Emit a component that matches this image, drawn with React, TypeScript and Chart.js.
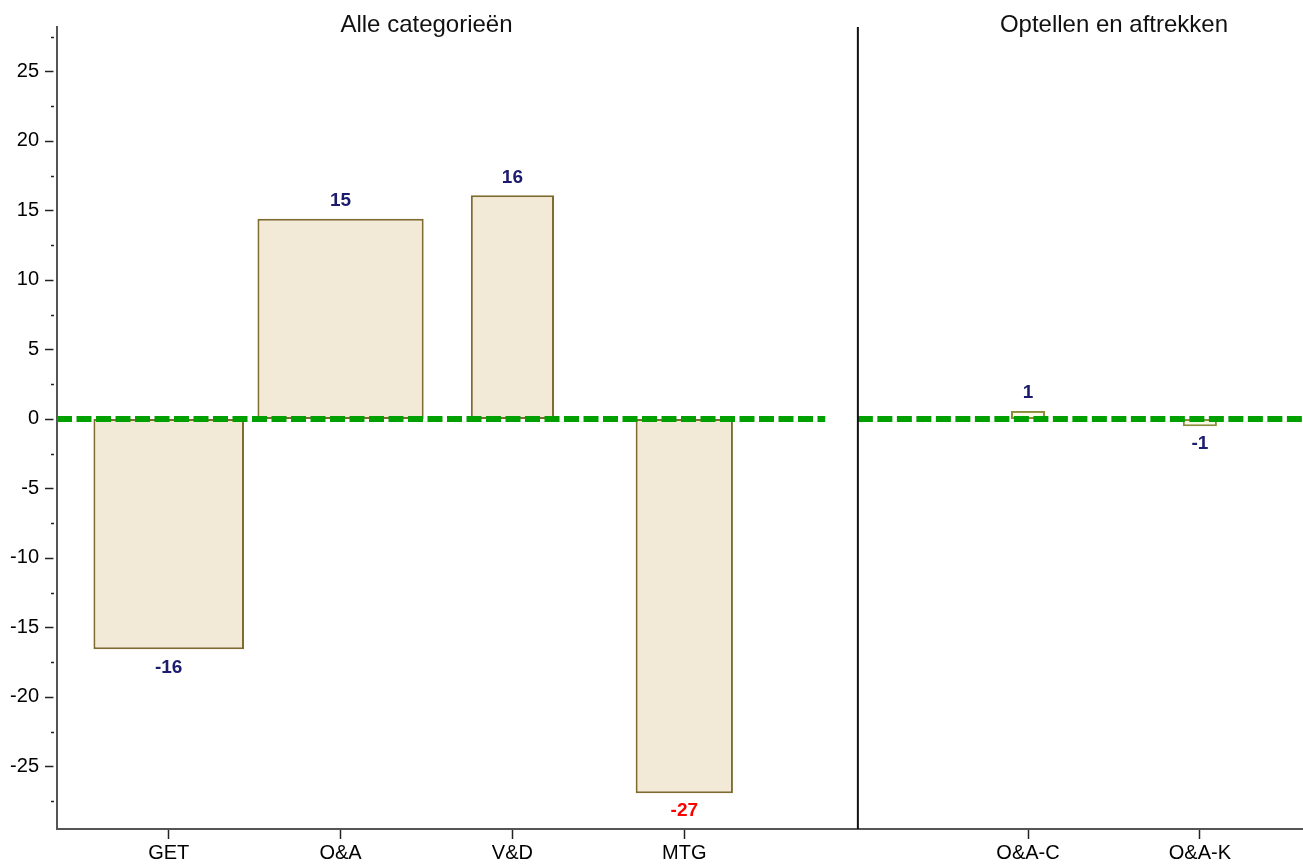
import React, { useEffect, useRef } from 'react';
import { Chart, registerables } from 'chart.js';

Chart.register(...registerables);

const FONT = "Arial, 'Liberation Sans', Helvetica, sans-serif";

// ---- data ----
const categories = ['GET', 'O&A', 'V&D', 'MTG', 'O&A-C', 'O&A-K'];
const positions = [1, 2, 3, 4, 6, 7];
const values = [-16.57, 14.41, 16.09, -26.92, 0.58, -0.52];
const barWidths = [0.876, 0.967, 0.484, 0.566, 0.198, 0.198];
const valueLabels = ['-16', '15', '16', '-27', '1', '-1'];
const valueLabelColors = ['#1c1c6e', '#1c1c6e', '#1c1c6e', '#ff0000', '#1c1c6e', '#1c1c6e'];
const barFills = ['#f2ead6', '#f2ead6', '#f2ead6', '#f2ead6', '#fbfbe8', '#fbfbe8'];
const barBorders = ['#7f6a2f', '#7f6a2f', '#7f6a2f', '#7f6a2f', '#8c8c3a', '#8c8c3a'];

const panelTitles = ['Alle categorieën', 'Optellen en aftrekken'];
const panelTitleCenters = [2.5, 6.5];
const panelDivider = 5.01;
const zeroLineSegments = [
  [0.35, 4.82],
  [5.01, 7.6],
];

const xRange = [0.35, 7.6];
const yRange = [-29.5, 28.2];
const yMajorTicks = [-25, -20, -15, -10, -5, 0, 5, 10, 15, 20, 25];
const yMinorTicks = [-27.5, -22.5, -17.5, -12.5, -7.5, -2.5, 2.5, 7.5, 12.5, 17.5, 22.5, 27.5];

const decorPlugin = {
  id: 'decor',
  afterDatasetsDraw(chart: any) {
    const { ctx, chartArea, scales } = chart;
    const x = scales.x;
    const y = scales.y;
    ctx.save();

    // panel divider
    const sx = x.getPixelForValue(panelDivider);
    ctx.strokeStyle = '#111';
    ctx.lineWidth = 2;
    ctx.beginPath();
    ctx.moveTo(sx, chartArea.top);
    ctx.lineTo(sx, chartArea.bottom);
    ctx.stroke();

    // y axis tick marks
    ctx.strokeStyle = '#222';
    ctx.lineWidth = 1.5;
    const ax = chartArea.left;
    yMajorTicks.forEach((v) => {
      const py = Math.round(y.getPixelForValue(v)) + 0.5;
      ctx.beginPath();
      ctx.moveTo(ax - 12, py);
      ctx.lineTo(ax - 3.5, py);
      ctx.stroke();
    });
    yMinorTicks.forEach((v) => {
      const py = Math.round(y.getPixelForValue(v)) + 0.5;
      ctx.beginPath();
      ctx.moveTo(ax - 6, py);
      ctx.lineTo(ax - 3, py);
      ctx.stroke();
    });

    // value labels
    ctx.font = `bold 19px ${FONT}`;
    ctx.textAlign = 'center';
    ctx.textBaseline = 'middle';
    chart.data.datasets.forEach((ds: any, i: number) => {
      if (ds.type !== 'bar') return;
      const meta = chart.getDatasetMeta(i);
      const el: any = meta.data[0];
      if (!el) return;
      const idx = ds.catIndex;
      const v = values[idx];
      ctx.fillStyle = valueLabelColors[idx];
      const ly = v >= 0 ? el.y - 18 : el.y + 18;
      ctx.fillText(valueLabels[idx], el.x, ly);
    });

    // panel titles
    ctx.font = `24px ${FONT}`;
    ctx.fillStyle = '#111';
    ctx.textBaseline = 'alphabetic';
    panelTitles.forEach((t, i) => {
      ctx.fillText(t, x.getPixelForValue(panelTitleCenters[i]), 31.5);
    });

    ctx.restore();
  },
};

export default function App() {
  const canvasRef = useRef<HTMLCanvasElement | null>(null);

  useEffect(() => {
    if (!canvasRef.current) return;
    const barDatasets = categories.map((c, i) => ({
      type: 'bar' as const,
      label: c,
      catIndex: i,
      data: [{ x: positions[i], y: values[i] }],
      backgroundColor: barFills[i],
      borderColor: barBorders[i],
      borderWidth: 2,
      borderSkipped: false,
      grouped: false,
      barPercentage: barWidths[i],
      categoryPercentage: 1,
      order: 2,
    }));
    const lineDatasets = zeroLineSegments.map((s, i) => ({
      type: 'line' as const,
      label: 'nul' + i,
      data: [
        { x: s[0], y: 0 },
        { x: s[1], y: 0 },
      ],
      borderColor: '#00a000',
      borderWidth: 6,
      borderDash: [15, 4.5],
      borderCapStyle: 'butt',
      pointRadius: 0,
      fill: false,
      order: 0,
    }));

    const chart = new Chart(canvasRef.current, {
      type: 'bar',
      data: { datasets: [...barDatasets, ...lineDatasets] as any },
      options: {
        animation: false,
        responsive: false,
        maintainAspectRatio: false,
        layout: { padding: { top: 27, left: 0, right: 0, bottom: 0 } },
        plugins: {
          legend: { display: false },
          tooltip: { enabled: false },
          title: { display: false },
        },
        scales: {
          x: {
            type: 'linear',
            min: xRange[0],
            max: xRange[1],
            offset: false,
            afterBuildTicks: (s: any) => {
              s.ticks = positions.map((v) => ({ value: v }));
            },
            afterFit: (s: any) => {
              s.height = 35;
            },
            ticks: {
              autoSkip: false,
              maxRotation: 0,
              padding: 2,
              color: '#000',
              font: { size: 20, family: FONT },
              callback: (v: any) => {
                const k = positions.indexOf(Number(v));
                return k >= 0 ? categories[k] : '';
              },
            },
            grid: {
              display: true,
              drawOnChartArea: false,
              offset: false,
              tickLength: 10,
              tickWidth: 1.5,
              tickColor: '#222',
            },
            border: { display: true, color: '#555', width: 2 },
          },
          y: {
            type: 'linear',
            min: yRange[0],
            max: yRange[1],
            afterBuildTicks: (s: any) => {
              s.ticks = yMajorTicks.map((v) => ({ value: v }));
            },
            afterFit: (s: any) => {
              s.width = 57;
            },
            ticks: {
              padding: 10,
              color: '#000',
              font: { size: 20, family: FONT },
              callback: (v: any) => String(v),
            },
            grid: { display: false },
            border: { display: true, color: '#555', width: 2 },
          },
        },
      } as any,
      plugins: [decorPlugin],
    });
    return () => chart.destroy();
  }, []);

  return (
    <div style={{ position: 'absolute', left: 0, top: 0, width: 1303, height: 864, background: '#fff' }}>
      <canvas ref={canvasRef} width={1303} height={864} style={{ display: 'block' }} />
    </div>
  );
}
